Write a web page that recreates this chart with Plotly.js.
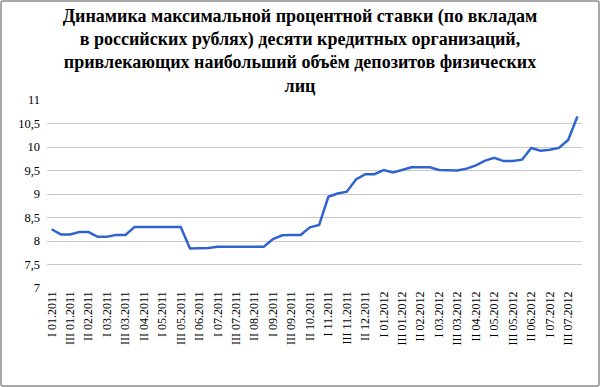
<!DOCTYPE html>
<html>
<head>
<meta charset="utf-8">
<script src="https://cdn.plot.ly/plotly-3.0.1.min.js"></script>
<style>
html,body{margin:0;padding:0;background:#fff;}
#wrap{position:relative;width:600px;height:387px;}
#chart{width:600px;height:387px;}
#frame{position:absolute;left:0;top:0;width:596px;height:383px;border:2px solid #a6a6a6;border-radius:3px;pointer-events:none;}
</style>
</head>
<body>
<div id="wrap"><div id="chart"></div><div id="frame"></div></div>
<script>
var decades = ["I", "II", "III"];
var months = ["01.2011","02.2011","03.2011","04.2011","05.2011","06.2011","07.2011","08.2011","09.2011","10.2011","11.2011","12.2011",
              "01.2012","02.2012","03.2012","04.2012","05.2012","06.2012","07.2012","08.2012"];
var categories = [];
months.forEach(function(m){ decades.forEach(function(d){ categories.push(d + " " + m); }); });
categories = categories.slice(0, 58);

var rates = [8.25, 8.14, 8.14, 8.19, 8.19, 8.09, 8.09, 8.13, 8.13, 8.30,
             8.30, 8.30, 8.30, 8.30, 8.30, 7.84, 7.84, 7.85, 7.88, 7.88,
             7.88, 7.88, 7.88, 7.88, 8.04, 8.12, 8.13, 8.13, 8.29, 8.34,
             8.94, 9.01, 9.05, 9.31, 9.42, 9.42, 9.51, 9.46, 9.51, 9.57,
             9.57, 9.57, 9.51, 9.50, 9.50, 9.54, 9.61, 9.71, 9.77, 9.70,
             9.70, 9.73, 9.98, 9.92, 9.94, 9.98, 10.15, 10.65];

var shownTicks = categories.filter(function(c, i){ return i % 2 === 0; });
var yTicks = [7, 7.5, 8, 8.5, 9, 9.5, 10, 10.5, 11];
var yTickText = yTicks.map(function(v){ return String(v).replace(".", ","); });

var titleText = "Динамика максимальной процентной ставки (по вкладам<br>в российских рублях) десяти кредитных организаций,<br>привлекающих наибольший объём депозитов физических<br>лиц";

var serif = "Liberation Serif";

Plotly.newPlot("chart", [{
  type: "scatter",
  mode: "lines",
  x: categories,
  y: rates,
  line: {color: "#2f64d0", width: 2.5},
  hoverinfo: "x+y"
}], {
  width: 600, height: 387,
  margin: {l: 47, r: 18, t: 100, b: 99},
  paper_bgcolor: "#ffffff",
  plot_bgcolor: "#ffffff",
  showlegend: false,
  font: {family: serif},
  title: {
    text: "<b>" + titleText + "</b>",
    font: {family: serif, size: 18, color: "#000"},
    x: 0.5, xanchor: "center",
    y: 0.944, yanchor: "top"
  },
  xaxis: {
    type: "category",
    range: [-0.5, 57.5],
    tickmode: "array",
    tickvals: shownTicks,
    ticktext: shownTicks,
    tickangle: -90,
    tickfont: {family: serif, size: 12, color: "#000"},
    showgrid: false,
    showline: false,
    zeroline: false,
    ticks: "",
    ticklen: 0
  },
  yaxis: {
    range: [7, 11],
    tickmode: "array",
    tickvals: yTicks,
    ticktext: yTickText,
    tickfont: {family: serif, size: 12.5, color: "#000"},
    showgrid: true,
    gridcolor: "#c8c8c8",
    gridwidth: 1.3,
    zeroline: false,
    showline: false,
    ticks: "",
    ticklabelstandoff: 6
  }
}, {displayModeBar: false});
</script>
</body>
</html>
